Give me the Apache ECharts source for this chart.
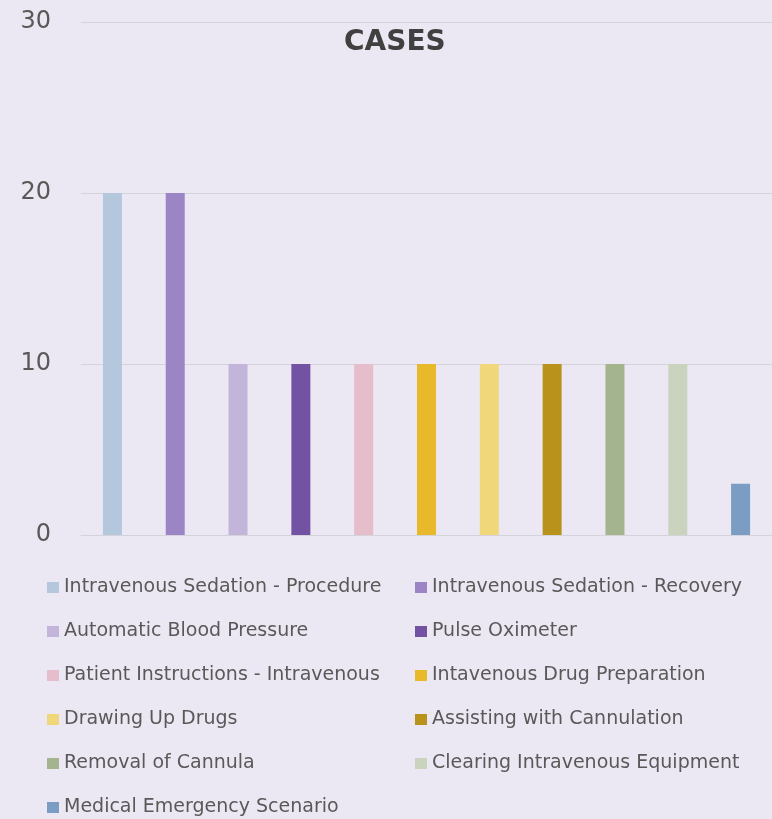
<!DOCTYPE html>
<html>
<head>
<meta charset="utf-8">
<script src="https://cdn.jsdelivr.net/npm/echarts@6/dist/echarts.min.js"></script>
<style>
html,body{margin:0;padding:0;background:#ece8f3;}
#c{width:772px;height:819px;}
</style>
</head>
<body>
<div id="c"></div>
<script>
var names = [
  "Intravenous Sedation - Procedure",
  "Intravenous Sedation - Recovery",
  "Automatic Blood Pressure",
  "Pulse Oximeter",
  "Patient Instructions - Intravenous",
  "Intavenous Drug Preparation",
  "Drawing Up Drugs",
  "Assisting with Cannulation",
  "Removal of Cannula",
  "Clearing Intravenous Equipment",
  "Medical Emergency Scenario"
];
var values = [20, 20, 10, 10, 10, 10, 10, 10, 10, 10, 3];
var colors = ["#b4c7dc","#9b85c4","#c3b5d9","#7452a3","#e5bdcb","#e8b92a","#f0d77a","#b8921a","#a4b48f","#c9d3bd","#7b9dc4"];
var yTicks = [0, 10, 20, 30];

var series = names.map(function(n, i){
  var d = names.map(function(_, j){ return j === i ? values[i] : null; });
  return {
    name: n, type: 'bar', stack: 'all', data: d, barWidth: 19,
    itemStyle: {color: colors[i]}
  };
});

var legendCommon = {
  orient: 'vertical', icon: 'rect', itemWidth: 12, itemHeight: 11,
  itemGap: 25, top: 578, padding: 0, height: 241,
  textStyle: {fontFamily: 'DejaVu Sans', fontSize: 19, color: '#595959', lineHeight: 19}
};
var leftNames = names.filter(function(_, i){ return i % 2 === 0; });
var rightNames = names.filter(function(_, i){ return i % 2 === 1; });

var chart = echarts.init(document.getElementById('c'));
chart.setOption({
  backgroundColor: '#ece8f3',
  animation: false,
  title: {
    text: 'CASES', left: 344, top: 29, padding: 0,
    textStyle: {fontFamily: 'DejaVu Sans', fontSize: 28, fontWeight: 'bold', color: '#404040'}
  },
  legend: [
    Object.assign({}, legendCommon, {left: 47, data: leftNames}),
    Object.assign({}, legendCommon, {left: 415, data: rightNames})
  ],
  grid: {left: 81, right: 0, top: 22, bottom: 284, containLabel: false},
  xAxis: {
    type: 'category', data: names,
    axisLabel: {show: false}, axisTick: {show: false},
    axisLine: {lineStyle: {color: '#d4d2da'}}
  },
  yAxis: {
    type: 'value', min: yTicks[0], max: yTicks[yTicks.length-1], interval: 10,
    axisLabel: {fontFamily: 'DejaVu Sans', fontSize: 24, color: '#595959', margin: 30},
    axisLine: {show: false}, axisTick: {show: false},
    splitLine: {lineStyle: {color: '#d4d2da'}}
  },
  series: series
});
</script>
</body>
</html>
